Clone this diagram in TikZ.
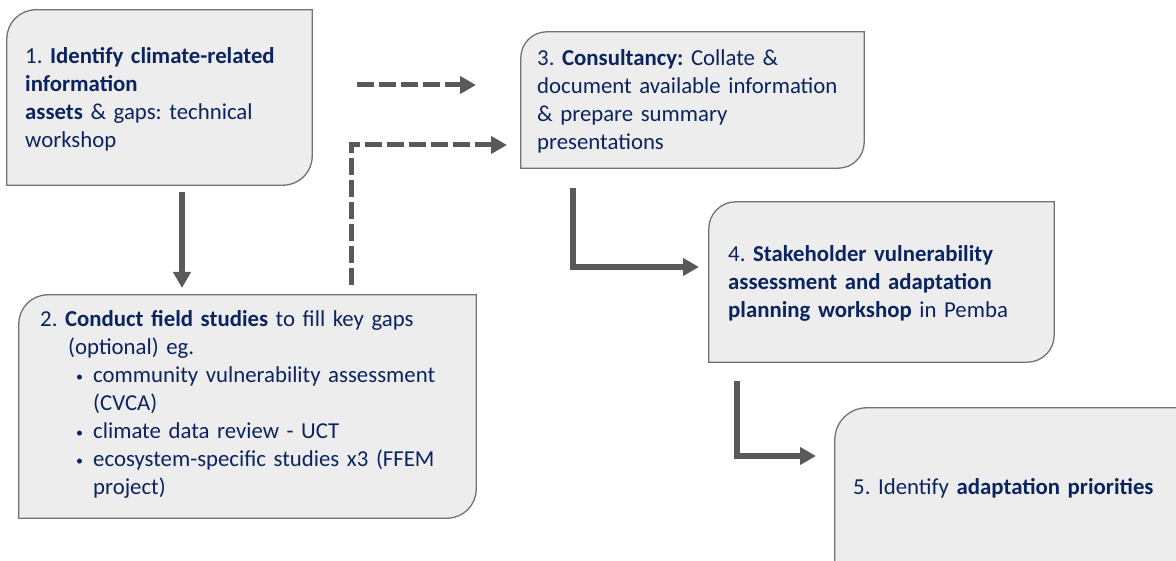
\documentclass[tikz,border=0pt]{standalone}
\usepackage{fontspec}
\setmainfont{Carlito}
\usetikzlibrary{arrows.meta}
\definecolor{boxfill}{HTML}{EDEDED}
\definecolor{boxedge}{HTML}{737373}
\definecolor{navy}{HTML}{0A2460}
\definecolor{arrowgray}{HTML}{595959}
\tikzset{
  stepframe/.style={rectangle, draw=none, inner sep=0pt},
  boxline/.style={draw=boxedge, fill=boxfill, line width=1.3pt},
  steptext/.style={anchor=base west, inner sep=0pt, align=left, text=navy,
    font=\fontsize{22.8pt}{28pt}\selectfont\frenchspacing},
  flow/.style={draw=arrowgray, line width=5.5pt,
    -{Triangle[length=16pt,width=17pt]}},
  dashflow/.style={flow, line width=5pt, dash pattern=on 17pt off 5pt}
}
\newcommand\diagframe[2]{%
  \draw[boxline] (#1.south west) -- ([yshift=-#2pt]#1.north west)
    arc[start angle=180,end angle=90,radius=#2pt] -- (#1.north east)
    -- ([yshift=#2pt]#1.south east)
    arc[start angle=0,end angle=-90,radius=#2pt] -- cycle;}
\newcommand\itembullet{\hspace*{36pt}\makebox[17pt][l]{\raisebox{1.5pt}{\fontsize{14pt}{14pt}\selectfont •}}}
\begin{document}
\begin{tikzpicture}[x=1pt,y=1pt]
\useasboundingbox (0,0) rectangle (1176,561);
\clip (0,0) rectangle (1176,561);

% frames of the five steps
\node[stepframe, minimum width=305pt, minimum height=175pt] (b1) at (159.5,463.5) {};
\node[stepframe, minimum width=457pt, minimum height=223pt] (b2) at (247.5,154.5) {};
\node[stepframe, minimum width=343pt, minimum height=136pt] (b3) at (692.5,461) {};
\node[stepframe, minimum width=345pt, minimum height=160pt] (b4) at (881.5,279) {};
\node[stepframe, minimum width=343pt, minimum height=182pt] (b5) at (1006.5,62) {};
\diagframe{b1}{29}
\diagframe{b2}{29}
\diagframe{b3}{26}
\diagframe{b4}{27}
\diagframe{b5}{32}

% step texts
\node[steptext, text width=290pt] (t1) at (25,497)
  {1. \textbf{Identify climate-related}\\\textbf{information}\\\textbf{assets} \& gaps: technical\\workshop};
\node[steptext, text width=430pt] (t2) at (40,234)
  {2. \textbf{Conduct field studies} to fill key gaps\\
   \hspace*{28pt}(optional) eg.\\
   \itembullet community vulnerability assessment\\
   \hspace*{53pt}(CVCA)\\
   \itembullet climate data review - UCT\\
   \itembullet ecosystem-specific studies x3 (FFEM\\
   \hspace*{53pt}project)};
\node[steptext, text width=320pt] (t3) at (537,495)
  {3. \textbf{Consultancy:} Collate \&\\document available information\\\& prepare summary\\presentations};
\node[steptext, text width=320pt] (t4) at (728,299)
  {4. \textbf{Stakeholder vulnerability}\\\textbf{assessment and adaptation}\\\textbf{planning workshop} in Pemba};
\node[steptext, text width=320pt] (t5) at (853,66)
  {5. Identify \textbf{adaptation priorities}};

% connector end points
\coordinate (p12s) at (182,369);
\coordinate (p12e) at (182,273);
\coordinate (d1s) at (357,476);
\coordinate (d1e) at (476,476);
\coordinate (d2s) at (351,276);
\coordinate (d2e) at (507,416);
\coordinate (p34s) at (573,373);
\coordinate (p34e) at (699,294);
\coordinate (p45s) at (737,180);
\coordinate (p45e) at (816,105);

% connectors
\draw[flow] (p12s) -- (p12e);
\draw[dashflow] (d1s) -- (d1e);
\draw[dashflow] (d2s) |- (d2e);
\draw[flow] (p34s) |- (p34e);
\draw[flow] (p45s) |- (p45e);
\end{tikzpicture}
\end{document}
